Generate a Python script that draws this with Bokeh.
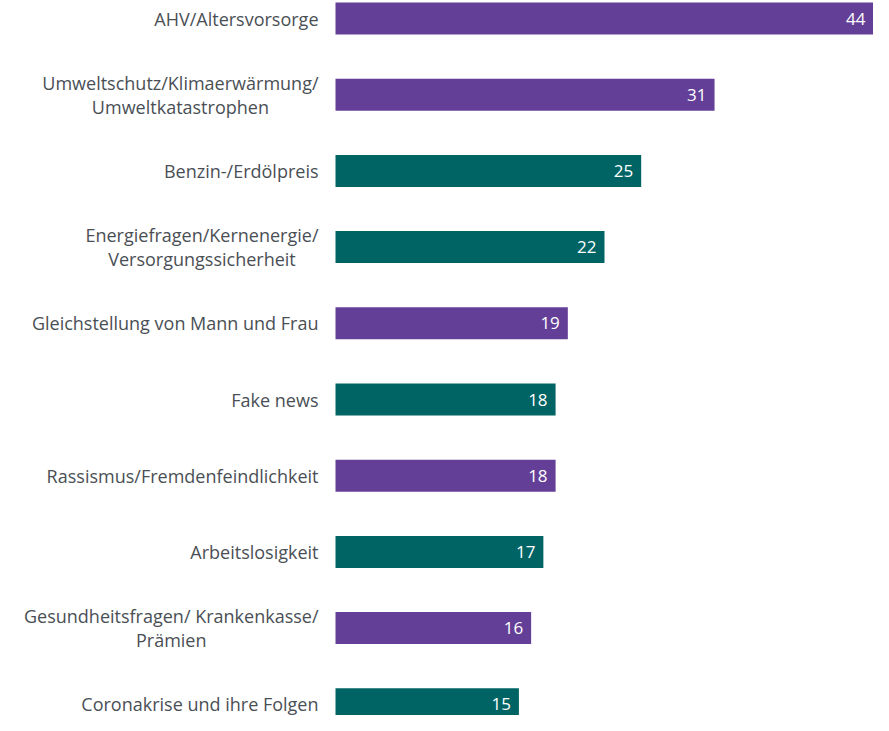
from bokeh.plotting import figure
from bokeh.models import ColumnDataSource
from bokeh.core.properties import value
from bokeh.embed import file_html
from bokeh.resources import INLINE

categories = [
    "AHV/Altersvorsorge",
    "Umweltschutz/Klimaerwärmung/\nUmweltkatastrophen",
    "Benzin-/Erdölpreis",
    "Energiefragen/Kernenergie/\nVersorgungssicherheit",
    "Gleichstellung von Mann und Frau",
    "Fake news",
    "Rassismus/Fremdenfeindlichkeit",
    "Arbeitslosigkeit",
    "Gesundheitsfragen/ Krankenkasse/\nPrämien",
    "Coronakrise und ihre Folgen",
]
values = [44, 31, 25, 22, 19, 18, 18, 17, 16, 15]
groups = ["a", "a", "b", "b", "a", "b", "a", "b", "a", "b"]

palette = {"a": "#643F97", "b": "#006464"}

W, H = 873, 715
bar_left_px = 335
px_x = (W - bar_left_px) / 44.0
x_start = -bar_left_px / px_x
px_y = 76.2
y_start = -18 / px_y
y_end = y_start + H / px_y

pos = list(range(len(categories)))
src = ColumnDataSource(dict(
    y=pos,
    v=values,
    cat=categories,
    lab=[str(v) for v in values],
    color=[palette[g] for g in groups],
    lx=[-17 / px_x] * len(pos),
))

p = figure(width=W, height=H, output_backend="svg", toolbar_location=None,
           x_range=(x_start, 44), y_range=(y_end, y_start),
           min_border=0, min_border_left=0, min_border_right=0,
           min_border_top=0, min_border_bottom=0)
p.axis.visible = False
p.grid.visible = False
p.outline_line_color = None
p.background_fill_color = "white"
p.border_fill_color = "white"

p.hbar(y="y", right="v", left=0, height=32 / px_y, color="color", source=src, line_color=None)

p.text(x="v", y="y", text="lab", source=src, x_offset=-8,
       text_align="right", text_baseline="middle",
       text_color="white", text_font_size="17px",
       text_font=value("Open Sans"))

p.text(x="lx", y="y", text="cat", source=src,
       anchor="center_right", text_align="center", text_baseline="middle",
       text_color="#4a4f55", text_font_size="18px",
       text_line_height=1.0,
       text_font=value("Open Sans"))

open("out.html", "w").write(file_html(p, INLINE))
